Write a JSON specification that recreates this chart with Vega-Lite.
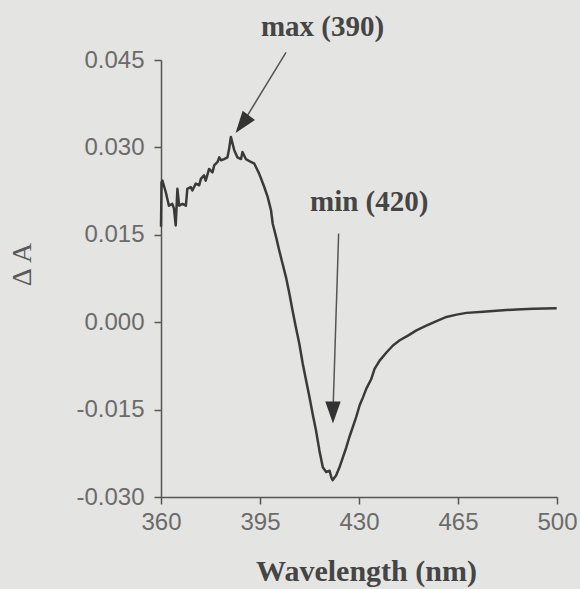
{
  "$schema": "https://vega.github.io/schema/vega-lite/v6.json",
  "width": 396,
  "height": 437,
  "autosize": {"type": "none"},
  "padding": {"left": 161, "top": 60, "right": 23, "bottom": 92},
  "background": "#e4e4e2",
  "config": {"view": {"stroke": null}},
  "datasets": {
    "curve": [
      {"wl": 360.0, "dA": 0.0164},
      {"wl": 360.2, "dA": 0.0240},
      {"wl": 360.5, "dA": 0.0243},
      {"wl": 361.7, "dA": 0.0223},
      {"wl": 362.8, "dA": 0.0200},
      {"wl": 364.0, "dA": 0.0203},
      {"wl": 364.6, "dA": 0.0195},
      {"wl": 365.2, "dA": 0.0166},
      {"wl": 365.8, "dA": 0.0229},
      {"wl": 366.4, "dA": 0.0200},
      {"wl": 367.6, "dA": 0.0203},
      {"wl": 368.8, "dA": 0.0200},
      {"wl": 369.3, "dA": 0.0229},
      {"wl": 370.5, "dA": 0.0232},
      {"wl": 371.1, "dA": 0.0226},
      {"wl": 372.3, "dA": 0.0238},
      {"wl": 373.5, "dA": 0.0235},
      {"wl": 374.1, "dA": 0.0246},
      {"wl": 375.2, "dA": 0.0252},
      {"wl": 375.8, "dA": 0.0243},
      {"wl": 377.0, "dA": 0.0263},
      {"wl": 378.2, "dA": 0.0257},
      {"wl": 378.8, "dA": 0.0269},
      {"wl": 380.0, "dA": 0.0275},
      {"wl": 380.6, "dA": 0.0283},
      {"wl": 381.2, "dA": 0.0278},
      {"wl": 382.3, "dA": 0.0280},
      {"wl": 383.5, "dA": 0.0283},
      {"wl": 384.1, "dA": 0.0298},
      {"wl": 384.7, "dA": 0.0318},
      {"wl": 385.9, "dA": 0.0295},
      {"wl": 387.0, "dA": 0.0283},
      {"wl": 388.3, "dA": 0.0280},
      {"wl": 388.8, "dA": 0.0292},
      {"wl": 390.0, "dA": 0.0280},
      {"wl": 391.8, "dA": 0.0275},
      {"wl": 393.0, "dA": 0.0272},
      {"wl": 394.7, "dA": 0.0255},
      {"wl": 396.5, "dA": 0.0232},
      {"wl": 397.7, "dA": 0.0215},
      {"wl": 398.9, "dA": 0.0192},
      {"wl": 399.5, "dA": 0.0169},
      {"wl": 400.7, "dA": 0.0146},
      {"wl": 401.8, "dA": 0.0123},
      {"wl": 403.0, "dA": 0.0100},
      {"wl": 404.2, "dA": 0.0077},
      {"wl": 405.4, "dA": 0.0049},
      {"wl": 406.5, "dA": 0.0020},
      {"wl": 407.7, "dA": -0.0009},
      {"wl": 408.9, "dA": -0.0037},
      {"wl": 410.1, "dA": -0.0071},
      {"wl": 411.3, "dA": -0.0100},
      {"wl": 412.5, "dA": -0.0129},
      {"wl": 413.6, "dA": -0.0157},
      {"wl": 414.8, "dA": -0.0186},
      {"wl": 416.0, "dA": -0.0220},
      {"wl": 417.2, "dA": -0.0249},
      {"wl": 418.4, "dA": -0.0257},
      {"wl": 419.6, "dA": -0.0255},
      {"wl": 420.2, "dA": -0.0266},
      {"wl": 420.7, "dA": -0.0271},
      {"wl": 421.9, "dA": -0.0263},
      {"wl": 423.1, "dA": -0.0249},
      {"wl": 424.3, "dA": -0.0232},
      {"wl": 425.5, "dA": -0.0215},
      {"wl": 426.6, "dA": -0.0197},
      {"wl": 427.8, "dA": -0.0180},
      {"wl": 429.0, "dA": -0.0163},
      {"wl": 430.2, "dA": -0.0143},
      {"wl": 431.4, "dA": -0.0129},
      {"wl": 432.6, "dA": -0.0114},
      {"wl": 434.3, "dA": -0.0098},
      {"wl": 435.5, "dA": -0.0080},
      {"wl": 437.3, "dA": -0.0066},
      {"wl": 439.7, "dA": -0.0052},
      {"wl": 442.0, "dA": -0.0040},
      {"wl": 444.4, "dA": -0.0031},
      {"wl": 447.3, "dA": -0.0023},
      {"wl": 450.3, "dA": -0.0014},
      {"wl": 453.8, "dA": -0.0006},
      {"wl": 457.4, "dA": 0.0002},
      {"wl": 460.9, "dA": 0.0009},
      {"wl": 464.5, "dA": 0.0013},
      {"wl": 468.0, "dA": 0.0016},
      {"wl": 473.9, "dA": 0.0018},
      {"wl": 479.8, "dA": 0.0020},
      {"wl": 485.7, "dA": 0.0022},
      {"wl": 491.6, "dA": 0.0023},
      {"wl": 499.9, "dA": 0.0024}
    ],
    "notes": [
      {"label": "max (390)", "wl": 417.1, "dA": 0.0506},
      {"label": "min (420)", "wl": 433.6, "dA": 0.0207}
    ],
    "arrows": [
      {"id": "max", "wl": 404.2, "dA": 0.0463, "wl2": 388.7, "dA2": 0.0340},
      {"id": "min", "wl": 422.8, "dA": 0.0152, "wl2": 420.8, "dA2": -0.0155}
    ]
  },
  "layer": [
    {
      "data": {"name": "curve"},
      "mark": {"type": "line", "color": "#3a3a3a", "strokeWidth": 2.5, "strokeJoin": "round"},
      "encoding": {
        "x": {
          "field": "wl", "type": "quantitative",
          "scale": {"domain": [360, 500], "nice": false, "zero": false},
          "axis": {
            "values": [360, 395, 430, 465, 500],
            "grid": false,
            "domainColor": "#555555", "domainWidth": 1.5,
            "tickColor": "#555555", "tickWidth": 1.5, "tickSize": 7,
            "labelFont": "Liberation Sans", "labelFontSize": 24, "labelColor": "#6b6b6b",
            "labelPadding": 6, "labelFlush": false, "labelOverlap": false,
            "title": "Wavelength (nm)",
            "titleFont": "Liberation Serif", "titleFontWeight": "bold", "titleFontSize": 30,
            "titleColor": "#454545", "titleX": 205, "titleY": 83, "titleBaseline": "alphabetic"
          }
        },
        "y": {
          "field": "dA", "type": "quantitative",
          "scale": {"domain": [-0.03, 0.045], "nice": false, "zero": false},
          "axis": {
            "values": [-0.03, -0.015, 0, 0.015, 0.03, 0.045],
            "labelExpr": "datum.value < 0 ? '-' + format(-datum.value, '.3f') : format(datum.value, '.3f')",
            "grid": false,
            "domainColor": "#555555", "domainWidth": 1.5,
            "tickColor": "#555555", "tickWidth": 1.5, "tickSize": 7,
            "labelFont": "Liberation Sans", "labelFontSize": 24, "labelColor": "#6b6b6b",
            "labelPadding": 10, "labelOverlap": false, "labelFlush": false,
            "title": "Δ A",
            "titleFont": "Liberation Serif", "titleFontWeight": "normal", "titleFontSize": 28,
            "titleColor": "#5a5a5a", "titleAngle": -90, "titleX": -139, "titleY": 204,
            "titleBaseline": "middle", "titleAlign": "center"
          }
        }
      }
    },
    {
      "data": {"name": "arrows"},
      "mark": {"type": "rule", "color": "#555555", "strokeWidth": 1.5},
      "encoding": {
        "x": {"field": "wl", "type": "quantitative"},
        "y": {"field": "dA", "type": "quantitative"},
        "x2": {"field": "wl2"},
        "y2": {"field": "dA2"}
      }
    },
    {
      "data": {"name": "arrows"},
      "transform": [{"filter": "datum.id === 'max'"}],
      "mark": {"type": "point", "shape": "M-0.7,-1L0.7,-1L0,1Z", "filled": true, "color": "#333333", "opacity": 1, "size": 484, "angle": 37},
      "encoding": {
        "x": {"field": "wl2", "type": "quantitative"},
        "y": {"field": "dA2", "type": "quantitative"}
      }
    },
    {
      "data": {"name": "arrows"},
      "transform": [{"filter": "datum.id === 'min'"}],
      "mark": {"type": "point", "shape": "M-0.7,-1L0.7,-1L0,1Z", "filled": true, "color": "#333333", "opacity": 1, "size": 484, "angle": 0},
      "encoding": {
        "x": {"field": "wl2", "type": "quantitative"},
        "y": {"field": "dA2", "type": "quantitative"}
      }
    },
    {
      "data": {"name": "notes"},
      "mark": {"type": "text", "font": "Liberation Serif", "fontWeight": "bold", "fontSize": 29, "color": "#454545", "align": "center", "baseline": "middle"},
      "encoding": {
        "x": {"field": "wl", "type": "quantitative"},
        "y": {"field": "dA", "type": "quantitative"},
        "text": {"field": "label"}
      }
    }
  ]
}
